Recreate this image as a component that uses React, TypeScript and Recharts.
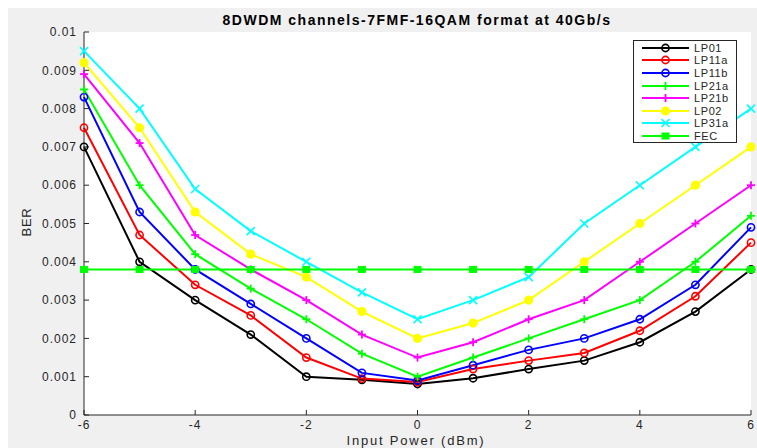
import React from 'react';
import { LineChart, Line, XAxis, YAxis, CartesianGrid, Legend } from 'recharts';

// Input power (dBm)
const POWER = [-6, -5, -4, -3, -2, -1, 0, 1, 2, 3, 4, 5, 6];

// BER per mode
const LP01 = [0.007, 0.004, 0.003, 0.0021, 0.001, 0.00092, 0.00081, 0.00096, 0.0012, 0.00142, 0.0019, 0.0027, 0.0038];
const LP11A = [0.0075, 0.0047, 0.0034, 0.0026, 0.0015, 0.00095, 0.00086, 0.0012, 0.00142, 0.00162, 0.0022, 0.0031, 0.0045];
const LP11B = [0.0083, 0.0053, 0.0038, 0.0029, 0.002, 0.0011, 0.0009, 0.0013, 0.0017, 0.002, 0.0025, 0.0034, 0.0049];
const LP21A = [0.0085, 0.006, 0.0042, 0.0033, 0.0025, 0.0016, 0.001, 0.0015, 0.002, 0.0025, 0.003, 0.004, 0.0052];
const LP21B = [0.0089, 0.0071, 0.0047, 0.0038, 0.003, 0.0021, 0.0015, 0.0019, 0.0025, 0.003, 0.004, 0.005, 0.006];
const LP02 = [0.0092, 0.0075, 0.0053, 0.0042, 0.0036, 0.0027, 0.002, 0.0024, 0.003, 0.004, 0.005, 0.006, 0.007];
const LP31A = [0.0095, 0.008, 0.0059, 0.0048, 0.004, 0.0032, 0.0025, 0.003, 0.0036, 0.005, 0.006, 0.007, 0.008];
const FEC = [0.0038, 0.0038, 0.0038, 0.0038, 0.0038, 0.0038, 0.0038, 0.0038, 0.0038, 0.0038, 0.0038, 0.0038, 0.0038];

const X_TICKS = [-6, -4, -2, 0, 2, 4, 6];
const Y_TICKS = [0, 0.001, 0.002, 0.003, 0.004, 0.005, 0.006, 0.007, 0.008, 0.009, 0.01];

const SERIES = [
  { key: 'LP01', values: LP01, color: '#000000', marker: 'o' },
  { key: 'LP11a', values: LP11A, color: '#ff0000', marker: 'o' },
  { key: 'LP11b', values: LP11B, color: '#0000ff', marker: 'o' },
  { key: 'LP21a', values: LP21A, color: '#00ff00', marker: '+' },
  { key: 'LP21b', values: LP21B, color: '#ff00ff', marker: '+' },
  { key: 'LP02', values: LP02, color: '#ffff00', marker: 'dot' },
  { key: 'LP31a', values: LP31A, color: '#00ffff', marker: 'x' },
  { key: 'FEC', values: FEC, color: '#00ff00', marker: 'sq' },
];

const data = POWER.map((p, i) => {
  const row: Record<string, number> = { power: p };
  SERIES.forEach((s) => (row[s.key] = s.values[i]));
  return row;
});

const AXIS = '#262626';
const FONT = '"Liberation Sans", Arial, sans-serif';

const marker = (shape: string, color: string, cx: number, cy: number, key?: any) => {
  switch (shape) {
    case 'o':
      return <circle key={key} cx={cx} cy={cy} r={3.6} fill="none" stroke={color} strokeWidth={1.6} />;
    case '+':
      return (
        <g key={key} stroke={color} strokeWidth={1.8}>
          <line x1={cx - 4} y1={cy} x2={cx + 4} y2={cy} />
          <line x1={cx} y1={cy - 4} x2={cx} y2={cy + 4} />
        </g>
      );
    case 'dot':
      return <circle key={key} cx={cx} cy={cy} r={4.6} fill={color} stroke="none" />;
    case 'x':
      return (
        <g key={key} stroke={color} strokeWidth={1.6}>
          <line x1={cx - 4} y1={cy - 4} x2={cx + 4} y2={cy + 4} />
          <line x1={cx - 4} y1={cy + 4} x2={cx + 4} y2={cy - 4} />
        </g>
      );
    default:
      return <rect key={key} x={cx - 4} y={cy - 3.5} width={8} height={7} fill={color} />;
  }
};

const dotFor = (shape: string, color: string) => (props: any) => {
  const { cx, cy, index } = props;
  if (cx == null || cy == null) return <g key={index} />;
  return marker(shape, color, cx, cy, index);
};

const renderLegend = () => (
  <div
    style={{
      width: 104,
      height: 103,
      boxSizing: 'border-box',
      border: `1px solid ${AXIS}`,
      background: '#fff',
      padding: '0.5px 0 0 8px',
      fontFamily: FONT,
      fontSize: 11,
      letterSpacing: 0.6,
      color: AXIS,
    }}
  >
    {SERIES.map((s) => (
      <div key={s.key} style={{ display: 'flex', alignItems: 'center', height: 12.6 }}>
        <svg width={47} height={12} style={{ flex: 'none' }}>
          <line x1={0} y1={6} x2={47} y2={6} stroke={s.color} strokeWidth={2} />
          {marker(s.marker, s.color, 23.5, 6)}
        </svg>
        <span style={{ marginLeft: 5, lineHeight: '12px' }}>{s.key}</span>
      </div>
    ))}
  </div>
);

const tickStyle = { fontFamily: FONT, fontSize: 12, fill: AXIS, letterSpacing: 1 };

const textBase: React.CSSProperties = {
  position: 'absolute',
  whiteSpace: 'nowrap',
  fontFamily: FONT,
};

export default function App() {
  return (
    <div style={{ width: 757, height: 448, background: '#fff', boxSizing: 'border-box', padding: '8px 0 0 8px' }}>
      <style>{'html, body { margin: 0; padding: 0; overflow: hidden; }'}</style>
      <div style={{ position: 'relative', width: 749, height: 440, background: '#f0f0f0' }}>
        <LineChart width={749} height={440} data={data} margin={{ top: 24, right: 6, left: 0, bottom: 0 }}>
          <CartesianGrid horizontal={false} vertical={false} fill="#ffffff" />
          <XAxis
            dataKey="power"
            type="number"
            domain={[-6, 6]}
            ticks={X_TICKS}
            height={33}
            stroke={AXIS}
            tickSize={-5}
            tickMargin={10}
            tick={tickStyle}
          />
          <XAxis
            xAxisId="top"
            orientation="top"
            type="number"
            domain={[-6, 6]}
            ticks={X_TICKS}
            height={0}
            stroke={AXIS}
            tickSize={-5}
            tick={false}
          />
          <YAxis
            type="number"
            domain={[0, 0.01]}
            ticks={Y_TICKS}
            width={76}
            stroke={AXIS}
            tickSize={-5}
            tickMargin={12}
            tick={tickStyle}
          />
          <YAxis
            yAxisId="right"
            orientation="right"
            type="number"
            domain={[0, 0.01]}
            ticks={Y_TICKS}
            width={0}
            stroke={AXIS}
            tickSize={-5}
            tick={false}
          />
          {SERIES.map((s) => (
            <Line
              key={s.key}
              dataKey={s.key}
              type="linear"
              stroke={s.color}
              strokeWidth={2}
              dot={dotFor(s.marker, s.color)}
              activeDot={false}
              isAnimationActive={false}
            />
          ))}
          <Legend
            layout="vertical"
            align="center"
            verticalAlign="middle"
            content={renderLegend}
            wrapperStyle={{ left: 625, top: 32, width: 104, height: 103 }}
          />
        </LineChart>
        <div
          style={{
            ...textBase,
            left: 409,
            top: 4,
            transform: 'translateX(-50%)',
            fontWeight: 'bold',
            fontSize: 14,
            letterSpacing: 1.5,
            color: '#000',
          }}
        >
          8DWDM channels-7FMF-16QAM format at 40Gb/s
        </div>
        <div
          style={{
            ...textBase,
            left: 408,
            top: 425,
            transform: 'translateX(-50%)',
            fontSize: 13,
            letterSpacing: 1.8,
            color: AXIS,
          }}
        >
          Input Power (dBm)
        </div>
        <div
          style={{
            ...textBase,
            left: 18,
            top: 214,
            transform: 'translate(-50%, -50%) rotate(-90deg)',
            fontSize: 13,
            letterSpacing: 0.8,
            color: AXIS,
          }}
        >
          BER
        </div>
      </div>
    </div>
  );
}
